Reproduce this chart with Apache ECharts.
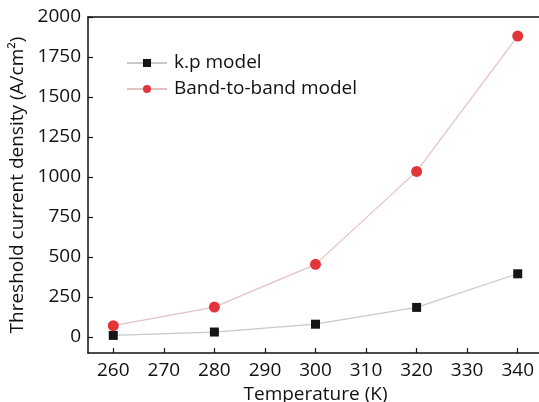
<!DOCTYPE html>
<html><head><meta charset="utf-8">
<script src="https://cdn.jsdelivr.net/npm/echarts@6/dist/echarts.min.js"></script>
<style>html,body{margin:0;padding:0;background:#fff}#c{width:539px;height:402px}</style>
</head><body><div id="c"></div>
<script>
const temperatures = [260, 280, 300, 320, 340];
const kpModel = [10, 31, 80, 185, 395];
const bandToBand = [71, 187, 454, 1035, 1881];
const xTicks = [260, 270, 280, 290, 300, 310, 320, 330, 340];
const yTicks = [0, 250, 500, 750, 1000, 1250, 1500, 1750, 2000];

const FONT = '"Open Sans", "Noto Sans", sans-serif';
const chart = echarts.init(document.getElementById('c'), null, {renderer: 'canvas'});
chart.setOption({
  animation: false,
  backgroundColor: '#fff',
  textStyle: {fontFamily: FONT, color: '#111'},
  grid: {left: 88, width: 455, top: 17, height: 336, containLabel: false, outerBoundsMode: 'none'},
  legend: {
    left: 126, top: 50, padding: 0, orient: 'vertical', itemGap: 0, itemWidth: 40, itemHeight: 10,
    textStyle: {fontFamily: FONT, fontSize: 19, color: '#111', lineHeight: 26, padding: [0,0,0,2]},
    data: ['k.p model', 'Band-to-band model']
  },
  xAxis: [{
    type: 'value', min: 255, max: 345,
    name: 'Temperature (K)', nameLocation: 'middle', nameGap: 29,
    nameTextStyle: {fontFamily: FONT, fontSize: 19, color: '#111'},
    axisLine: {onZero: false, lineStyle: {color: '#111', width: 1.5}},
    axisTick: {inside: true, length: 5, customValues: xTicks, lineStyle: {color: '#111', width: 1.2}},
    axisLabel: {customValues: xTicks, fontFamily: FONT, fontSize: 19, color: '#111', margin: 8},
    splitLine: {show: false}
  }, {
    type: 'value', min: 255, max: 345, position: 'top',
    axisLine: {show: true, onZero: false, lineStyle: {color: '#111', width: 1.5}},
    axisTick: {show: false}, axisLabel: {show: false}, splitLine: {show: false}
  }],
  yAxis: {
    type: 'value', min: -100, max: 2000,
    name: 'Threshold current density (A/cm²)', nameLocation: 'middle', nameGap: 58,
    nameTextStyle: {fontFamily: FONT, fontSize: 19, color: '#111'},
    axisLine: {show: true, onZero: false, lineStyle: {color: '#111', width: 1.5}},
    axisTick: {show: true, inside: true, length: 5, customValues: yTicks, lineStyle: {color: '#111', width: 1.2}},
    axisLabel: {customValues: yTicks, formatter: v => String(v), fontFamily: FONT, fontSize: 19, color: '#111', margin: 7},
    splitLine: {show: false}
  },
  series: [{
    name: 'k.p model', type: 'line',
    data: temperatures.map((t, i) => [t, kpModel[i]]),
    symbol: 'rect', symbolSize: 9,
    itemStyle: {color: '#151515'},
    lineStyle: {color: '#c8c8c8', width: 1.2}
  }, {
    name: 'Band-to-band model', type: 'line',
    data: temperatures.map((t, i) => [t, bandToBand[i]]),
    symbol: 'circle', symbolSize: 11,
    itemStyle: {color: '#e2353a'},
    lineStyle: {color: '#e3c0c2', width: 1.2}
  }]
});
</script></body></html>
